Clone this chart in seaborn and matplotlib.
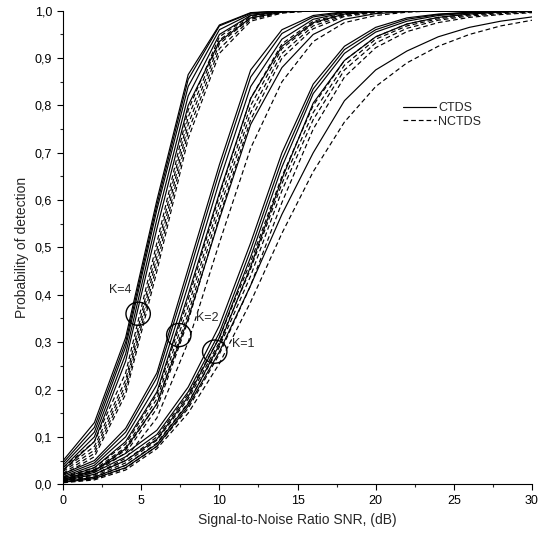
import numpy as np
import pandas as pd
import matplotlib
matplotlib.use("Agg")
import matplotlib.pyplot as plt
from matplotlib.patches import Ellipse
from matplotlib.lines import Line2D
import seaborn as sns

# SNR grid (dB)
SNR = [0, 2, 4, 6, 8, 10, 12, 14, 16, 18, 20, 22, 24, 26, 28, 30]

# K=4
K4_CTDS = [
    [0.050, 0.130, 0.310, 0.600, 0.865, 0.970, 0.996, 1.0, 1.0, 1.0, 1.0, 1.0, 1.0, 1.0, 1.0, 1.0],
    [0.045, 0.120, 0.300, 0.590, 0.855, 0.968, 0.995, 1.0, 1.0, 1.0, 1.0, 1.0, 1.0, 1.0, 1.0, 1.0],
    [0.040, 0.110, 0.290, 0.580, 0.840, 0.960, 0.993, 0.999, 1.0, 1.0, 1.0, 1.0, 1.0, 1.0, 1.0, 1.0],
    [0.035, 0.100, 0.275, 0.560, 0.820, 0.950, 0.990, 0.998, 1.0, 1.0, 1.0, 1.0, 1.0, 1.0, 1.0, 1.0],
    [0.030, 0.090, 0.260, 0.540, 0.800, 0.935, 0.985, 0.997, 1.0, 1.0, 1.0, 1.0, 1.0, 1.0, 1.0, 1.0],
]
K4_NCTDS = [
    [0.035, 0.090, 0.235, 0.510, 0.790, 0.945, 0.990, 0.999, 1.0, 1.0, 1.0, 1.0, 1.0, 1.0, 1.0, 1.0],
    [0.030, 0.080, 0.220, 0.495, 0.775, 0.938, 0.988, 0.998, 1.0, 1.0, 1.0, 1.0, 1.0, 1.0, 1.0, 1.0],
    [0.027, 0.072, 0.210, 0.480, 0.760, 0.930, 0.985, 0.997, 1.0, 1.0, 1.0, 1.0, 1.0, 1.0, 1.0, 1.0],
    [0.023, 0.065, 0.200, 0.465, 0.745, 0.920, 0.982, 0.996, 1.0, 1.0, 1.0, 1.0, 1.0, 1.0, 1.0, 1.0],
    [0.020, 0.058, 0.190, 0.450, 0.730, 0.910, 0.978, 0.995, 1.0, 1.0, 1.0, 1.0, 1.0, 1.0, 1.0, 1.0],
]

# K=2
K2_CTDS = [
    [0.022, 0.050, 0.118, 0.235, 0.455, 0.675, 0.875, 0.960, 0.990, 0.998, 1.0, 1.0, 1.0, 1.0, 1.0, 1.0],
    [0.019, 0.045, 0.110, 0.225, 0.440, 0.660, 0.860, 0.952, 0.987, 0.997, 1.0, 1.0, 1.0, 1.0, 1.0, 1.0],
    [0.016, 0.040, 0.100, 0.210, 0.420, 0.640, 0.840, 0.940, 0.982, 0.996, 0.999, 1.0, 1.0, 1.0, 1.0, 1.0],
    [0.013, 0.035, 0.090, 0.195, 0.400, 0.615, 0.815, 0.925, 0.975, 0.993, 0.998, 1.0, 1.0, 1.0, 1.0, 1.0],
    [0.010, 0.028, 0.075, 0.170, 0.350, 0.560, 0.760, 0.880, 0.950, 0.982, 0.994, 0.998, 1.0, 1.0, 1.0, 1.0],
]
K2_NCTDS = [
    [0.015, 0.035, 0.085, 0.190, 0.390, 0.610, 0.815, 0.930, 0.978, 0.994, 0.999, 1.0, 1.0, 1.0, 1.0, 1.0],
    [0.013, 0.031, 0.078, 0.180, 0.375, 0.595, 0.800, 0.920, 0.973, 0.992, 0.998, 1.0, 1.0, 1.0, 1.0, 1.0],
    [0.011, 0.028, 0.072, 0.170, 0.360, 0.580, 0.785, 0.910, 0.968, 0.990, 0.997, 1.0, 1.0, 1.0, 1.0, 1.0],
    [0.009, 0.025, 0.066, 0.160, 0.345, 0.565, 0.770, 0.900, 0.962, 0.988, 0.996, 1.0, 1.0, 1.0, 1.0, 1.0],
    [0.007, 0.020, 0.055, 0.140, 0.300, 0.510, 0.710, 0.850, 0.935, 0.975, 0.990, 0.997, 1.0, 1.0, 1.0, 1.0],
]

# K=1
K1_CTDS = [
    [0.010, 0.030, 0.065, 0.114, 0.205, 0.335, 0.510, 0.700, 0.845, 0.925, 0.965, 0.985, 0.993, 0.997, 0.999, 1.0],
    [0.008, 0.025, 0.058, 0.105, 0.195, 0.320, 0.495, 0.685, 0.835, 0.918, 0.960, 0.982, 0.992, 0.996, 0.998, 1.0],
    [0.007, 0.021, 0.050, 0.095, 0.185, 0.310, 0.480, 0.670, 0.825, 0.910, 0.955, 0.978, 0.990, 0.995, 0.998, 0.999],
    [0.005, 0.015, 0.040, 0.085, 0.170, 0.295, 0.460, 0.645, 0.805, 0.895, 0.945, 0.972, 0.986, 0.993, 0.997, 0.999],
    [0.004, 0.012, 0.035, 0.080, 0.165, 0.280, 0.420, 0.570, 0.700, 0.810, 0.875, 0.915, 0.945, 0.965, 0.978, 0.987],
]
K1_NCTDS = [
    [0.007, 0.020, 0.050, 0.100, 0.190, 0.310, 0.470, 0.650, 0.800, 0.895, 0.945, 0.972, 0.986, 0.993, 0.997, 0.999],
    [0.006, 0.017, 0.045, 0.093, 0.180, 0.300, 0.455, 0.635, 0.785, 0.885, 0.940, 0.968, 0.983, 0.991, 0.996, 0.998],
    [0.005, 0.014, 0.040, 0.087, 0.172, 0.290, 0.440, 0.620, 0.770, 0.875, 0.932, 0.963, 0.980, 0.989, 0.994, 0.997],
    [0.004, 0.011, 0.034, 0.080, 0.160, 0.275, 0.420, 0.595, 0.750, 0.860, 0.922, 0.956, 0.975, 0.986, 0.992, 0.996],
    [0.003, 0.009, 0.030, 0.075, 0.150, 0.255, 0.385, 0.530, 0.660, 0.765, 0.840, 0.890, 0.925, 0.950, 0.968, 0.980],
]

GROUPS = {
    (4, "CTDS"): K4_CTDS, (4, "NCTDS"): K4_NCTDS,
    (2, "CTDS"): K2_CTDS, (2, "NCTDS"): K2_NCTDS,
    (1, "CTDS"): K1_CTDS, (1, "NCTDS"): K1_NCTDS,
}

# circle annotations: label, centre (snr, pd), label position
MARKS = [
    ("K=4", (4.8, 0.360), (3.65, 0.410)),
    ("K=2", (7.4, 0.315), (9.2, 0.350)),
    ("K=1", (9.7, 0.280), (11.5, 0.296)),
]

rows = []
for (k, scheme), curves in GROUPS.items():
    for i, vals in enumerate(curves):
        for s, p in zip(SNR, vals):
            rows.append({"snr": s, "pd": p, "K": k, "scheme": scheme, "unit": f"K{k}_{scheme}_{i}"})
df = pd.DataFrame(rows)

sns.set_style("ticks")
plt.rcParams['font.family'] = ['Liberation Sans', 'DejaVu Sans']

fig = plt.figure(figsize=(5.49, 5.38), dpi=100)
ax = fig.add_axes([0.115, 0.100, 0.854, 0.880])

dash_style = (4, 2.5)
sns.lineplot(data=df, x="snr", y="pd", units="unit", estimator=None,
             style="scheme", dashes={"CTDS": "", "NCTDS": dash_style},
             color="black", linewidth=0.85, legend=False, ax=ax)

for label, (cx, cy), (tx, ty) in MARKS:
    ax.add_patch(Ellipse((cx, cy), width=1.56, height=0.049, fill=False,
                         edgecolor="black", linewidth=1.0, zorder=5))
    ax.text(tx, ty, label, fontsize=9, ha="center", va="center")

handles = [Line2D([], [], color="black", linewidth=0.85),
           Line2D([], [], color="black", linewidth=0.85, dashes=dash_style)]
ax.legend(handles, ["CTDS", "NCTDS"], loc="upper left", bbox_to_anchor=(0.715, 0.818),
          frameon=False, fontsize=9, handlelength=2.6, handletextpad=0.2,
          labelspacing=0.15, borderaxespad=0)

ax.set_xlim(0, 30)
ax.set_ylim(0, 1.0)
ax.set_xticks(np.arange(0, 31, 5))
ax.set_xticks(np.arange(2.5, 30, 5), minor=True)
ax.set_yticks(np.arange(0, 1.01, 0.1))
ax.set_yticks(np.arange(0.05, 1.0, 0.1), minor=True)
ax.set_yticklabels([f"{v:.1f}".replace(".", ",") for v in np.arange(0, 1.01, 0.1)])
ax.tick_params(axis="both", which="major", direction="out", length=4.5, width=0.8,
               labelsize=9, colors="black")
ax.tick_params(axis="both", which="minor", direction="out", length=2.5, width=0.8)
for side in ["top", "right"]:
    ax.spines[side].set_visible(False)
for side in ["left", "bottom"]:
    ax.spines[side].set_linewidth(0.8)
    ax.spines[side].set_color("black")

ax.set_xlabel("Signal-to-Noise Ratio SNR, (dB)", fontsize=10)
ax.set_ylabel("Probability of detection", fontsize=10)

fig.savefig("out.png", dpi=100)
